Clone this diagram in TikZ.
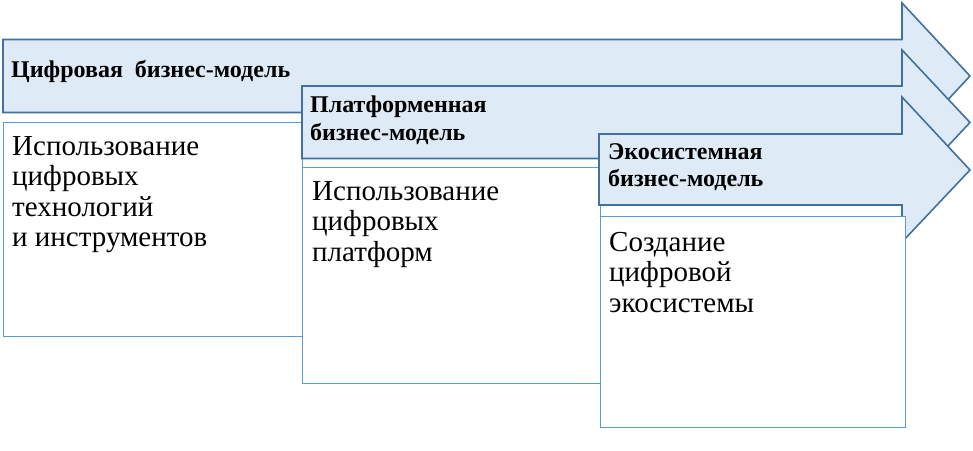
\documentclass[tikz,border=0pt]{standalone}
\usepackage{fontspec}
\setmainfont{Liberation Serif}
\definecolor{arrowfill}{RGB}{222,234,246}
\definecolor{arrowline}{RGB}{65,113,156}
\definecolor{boxline}{RGB}{91,155,213}
\tikzset{
  arrowshape/.style={fill=arrowfill, draw=arrowline, line width=1.6pt, line join=miter},
  boxshape/.style={fill=white, draw=boxline, line width=0.8pt},
  titletext/.style={font=\fontsize{24}{27.5}\selectfont\bfseries, align=left, anchor=north west, inner sep=0pt},
  bodytext/.style={font=\fontsize{29}{30.5}\selectfont, align=left, anchor=north west, inner sep=0pt}
}
\begin{document}
\begin{tikzpicture}[x=1pt, y=-1pt]
\useasboundingbox (0,0) rectangle (973,450);
% first stage
\draw[arrowshape](3,39.5)--(902,39.5)--(902,3)--(970,76)--(902,149)--(902,112.5)--(3,112.5)--cycle;
\node[titletext] (t1) at (11,60) {Цифровая\ \ бизнес-модель};
\draw[boxshape](3,122)rectangle(302,336);
\node[bodytext] (b1) at (12,136) {Использование\\цифровых\\технологий\\и инструментов};
% second stage
\draw[arrowshape](302,86)--(902,86)--(902,50)--(970,122.5)--(902,195)--(902,158.5)--(302,158.5)--cycle;
\node[titletext] (t2) at (310,96) {Платформенная\\бизнес-модель};
\draw[boxshape](302,167)rectangle(600,383);
\node[bodytext] (b2) at (312,181) {Использование\\цифровых\\платформ};
% third stage
\draw[arrowshape](599,134)--(902,134)--(902,97)--(970,170)--(902,242)--(902,205)--(599,205)--cycle;
\node[titletext] (t3) at (608,143) {Экосистемная\\бизнес-модель};
\draw[boxshape](600,216)rectangle(905,427);
\node[bodytext] (b3) at (609,232) {Создание\\цифровой\\экосистемы};
\end{tikzpicture}
\end{document}
